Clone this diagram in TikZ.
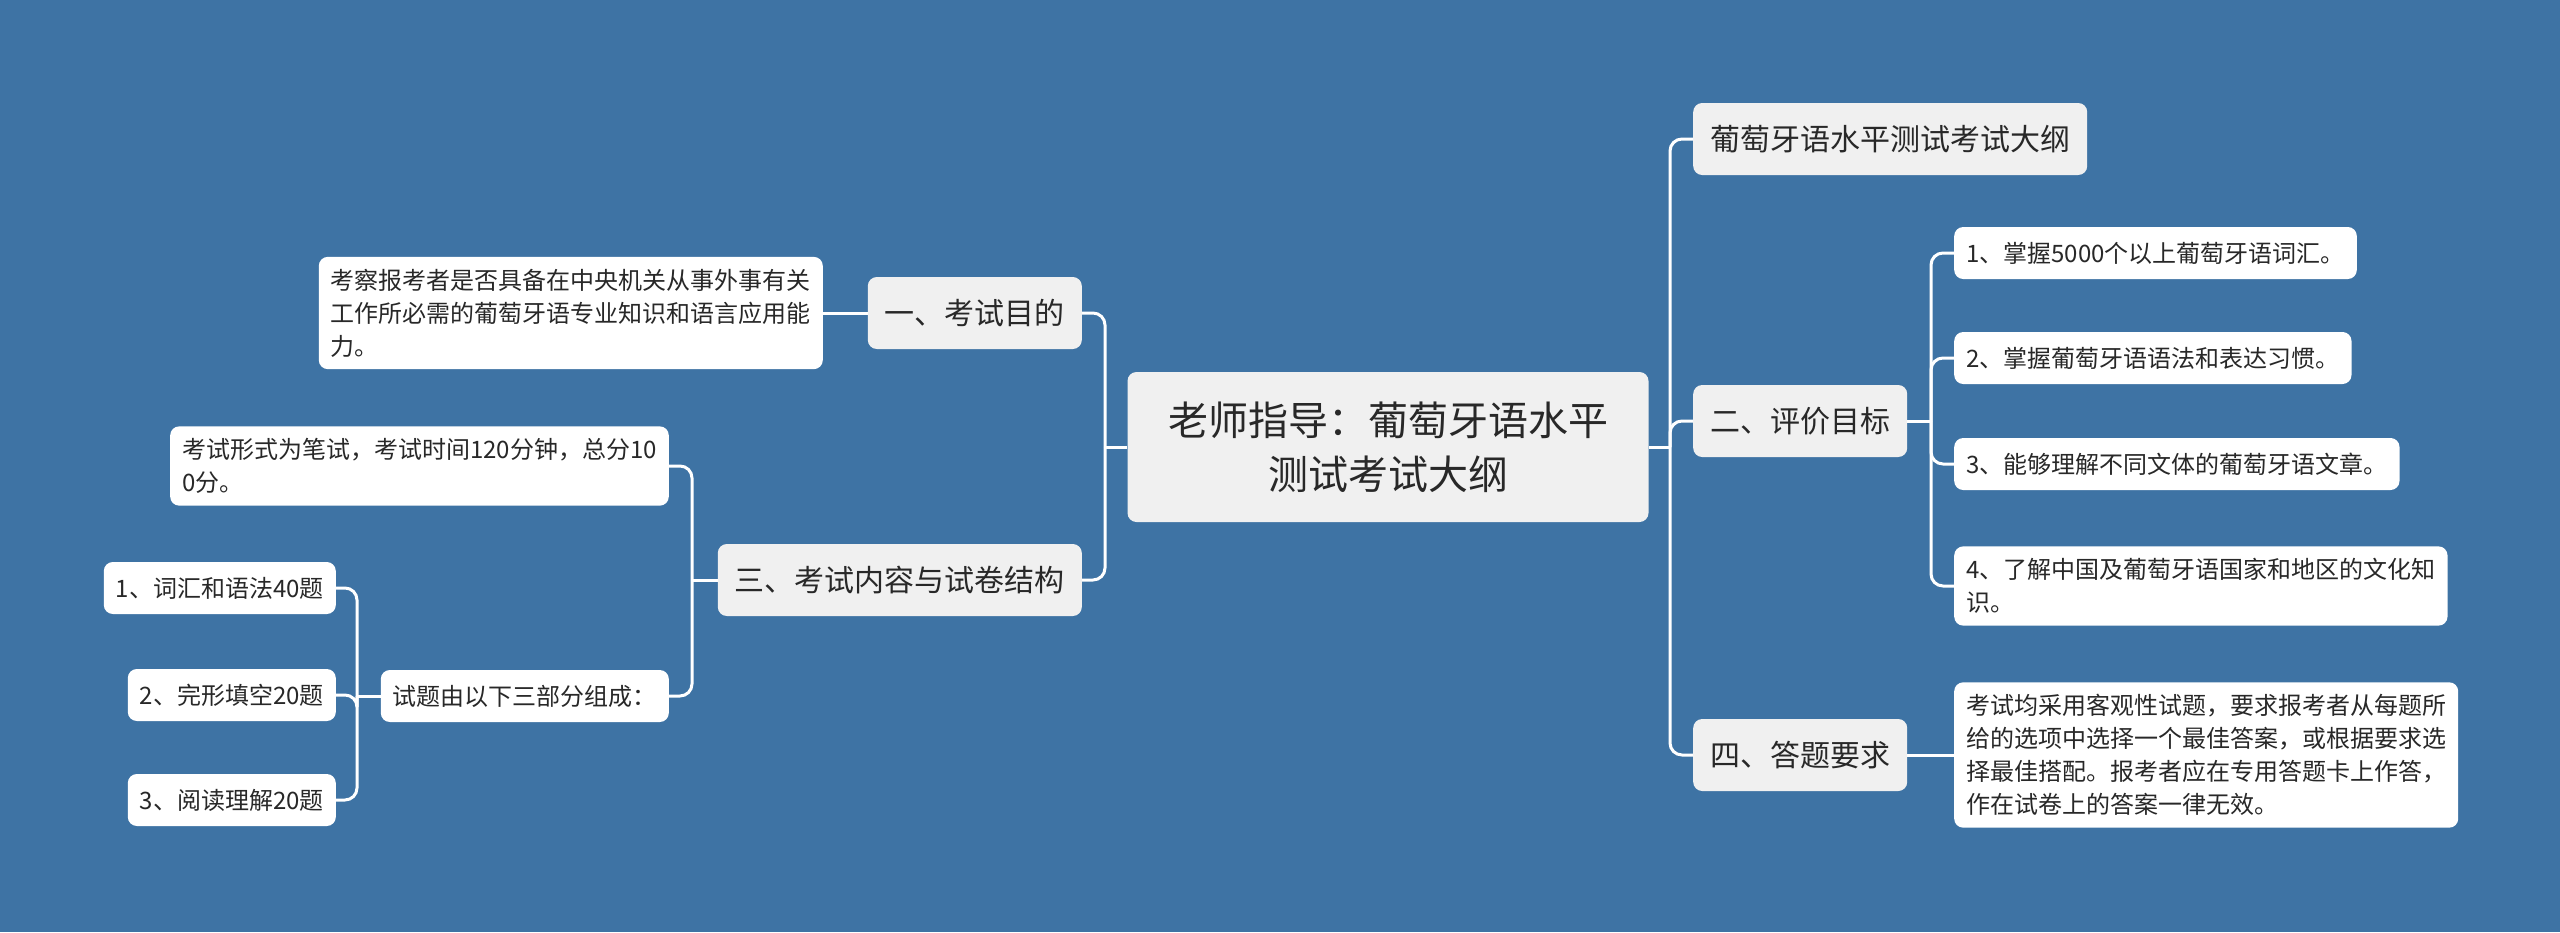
\documentclass[tikz,border=0pt]{standalone}
\usepackage{fontspec}
\setmainfont{Noto Sans CJK SC}
\definecolor{bgblue}{RGB}{62,115,164}
\definecolor{lvlgray}{RGB}{240,240,240}
\definecolor{txt}{RGB}{40,40,40}
\tikzset{
  base/.style={rounded corners=9pt, text=txt, align=left, inner ysep=12pt},
  rootbox/.style={base, fill=lvlgray, align=center, minimum width=521pt, minimum height=150pt,
    font={\fontsize{40}{54}\selectfont}},
  lvlbox/.style={base, fill=lvlgray, inner xsep=17pt, minimum height=72pt,
    font={\fontsize{30}{40}\selectfont}},
  leafbox/.style={base, fill=white, inner xsep=12pt, minimum height=52pt,
    font={\fontsize{24}{33}\selectfont}},
  conn/.style={draw=white, line width=3pt, rounded corners=12pt}
}
\begin{document}
\begin{tikzpicture}[x=1pt,y=-1pt]
\fill[bgblue] (0,0) rectangle (2560,932);
\useasboundingbox (0,0) rectangle (2560,932);

% root
\node[rootbox] (root) at (1388,447) {老师指导：葡萄牙语水平\\测试考试大纲};

% left level 1
\node[lvlbox, anchor=east] (n1) at (1082,313) {一、考试目的};
\node[lvlbox, anchor=east] (n3) at (1082,580) {三、考试内容与试卷结构};

% right level 1
\node[lvlbox, anchor=west] (r0) at (1693,139) {葡萄牙语水平测试考试大纲};
\node[lvlbox, anchor=west] (n2) at (1693,421) {二、评价目标};
\node[lvlbox, anchor=west] (n4) at (1693,755) {四、答题要求};

% left leaves
\node[leafbox, anchor=east] (a1) at (823,313) {考察报考者是否具备在中央机关从事外事有关\\工作所必需的葡萄牙语专业知识和语言应用能\\力。};
\node[leafbox, anchor=east] (c1) at (669,466) {考试形式为笔试，考试时间120分钟，总分10\\0分。};
\node[leafbox, anchor=east] (c2) at (669,696) {试题由以下三部分组成：};
\node[leafbox, anchor=east] (d1) at (336,588) {1、词汇和语法40题};
\node[leafbox, anchor=east] (d2) at (336,695) {2、完形填空20题};
\node[leafbox, anchor=east] (d3) at (336,800) {3、阅读理解20题};

% right leaves
\node[leafbox, anchor=west] (b1) at (1954,253) {1、掌握5000个以上葡萄牙语词汇。};
\node[leafbox, anchor=west] (b2) at (1954,358) {2、掌握葡萄牙语语法和表达习惯。};
\node[leafbox, anchor=west] (b3) at (1954,464) {3、能够理解不同文体的葡萄牙语文章。};
\node[leafbox, anchor=west] (b4) at (1954,586) {4、了解中国及葡萄牙语国家和地区的文化知\\识。};
\node[leafbox, anchor=west] (e1) at (1954,755) {考试均采用客观性试题，要求报考者从每题所\\给的选项中选择一个最佳答案，或根据要求选\\择最佳搭配。报考者应在专用答题卡上作答，\\作在试卷上的答案一律无效。};

% trunk coordinates
\coordinate (tl) at (1105,447);
\coordinate (tr) at (1670,447);
\coordinate (t3) at (692,580);
\coordinate (tc) at (357,696);
\coordinate (t2) at (1931,421);

% connectors
\draw[conn] (root.west) -- (tl);
\draw[conn] (tl) |- (n1.east);
\draw[conn] (tl) |- (n3.east);
\draw[conn] (root.east) -- (tr);
\draw[conn] (tr) |- (r0.west);
\draw[conn] (tr) |- (n2.west);
\draw[conn] (tr) |- (n4.west);

\draw[conn] (n1.west) -- (a1.east);
\draw[conn] (n3.west) -- (t3);
\draw[conn] (t3) |- (c1.east);
\draw[conn] (t3) |- (c2.east);
\draw[conn] (c2.west) -- (tc);
\draw[conn] (tc) |- (d1.east);
\draw[conn] (tc) |- (d2.east);
\draw[conn] (tc) |- (d3.east);

\draw[conn] (n2.east) -- (t2);
\draw[conn] (t2) |- (b1.west);
\draw[conn] (t2) |- (b2.west);
\draw[conn] (t2) |- (b3.west);
\draw[conn] (t2) |- (b4.west);
\draw[conn] (n4.east) -- (e1.west);
\end{tikzpicture}
\end{document}
